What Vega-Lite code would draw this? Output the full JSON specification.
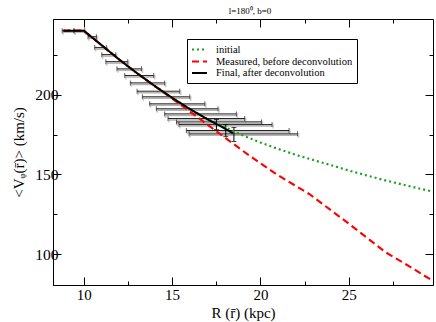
{
  "$schema": "https://vega.github.io/schema/vega-lite/v6.json",
  "width": 380,
  "height": 266,
  "autosize": "none",
  "padding": {"left": 53, "top": 19, "right": 3, "bottom": 37},
  "background": "white",
  "title": {"text": "l=180⁰, b=0", "font": "Liberation Serif", "fontSize": 9, "fontWeight": "normal", "color": "black", "offset": 3, "dx": 7},
  "config": {
    "font": "Liberation Serif",
    "view": {"stroke": "black", "strokeWidth": 1}
  },
  "datasets": {
    "curves": [
      {"series": "initial", "R": 8.85, "V": 240}, {"series": "initial", "R": 10, "V": 240},
      {"series": "initial", "R": 11, "V": 231}, {"series": "initial", "R": 12, "V": 222},
      {"series": "initial", "R": 13, "V": 213.5}, {"series": "initial", "R": 14, "V": 205.5},
      {"series": "initial", "R": 15, "V": 198}, {"series": "initial", "R": 16, "V": 191},
      {"series": "initial", "R": 17, "V": 184.8}, {"series": "initial", "R": 18, "V": 179.5},
      {"series": "initial", "R": 19, "V": 174.5}, {"series": "initial", "R": 20, "V": 170},
      {"series": "initial", "R": 21, "V": 166}, {"series": "initial", "R": 22, "V": 162.3},
      {"series": "initial", "R": 23, "V": 159}, {"series": "initial", "R": 24, "V": 155.8},
      {"series": "initial", "R": 25, "V": 152.5}, {"series": "initial", "R": 26, "V": 149.4},
      {"series": "initial", "R": 27, "V": 146.5}, {"series": "initial", "R": 28, "V": 143.8},
      {"series": "initial", "R": 29, "V": 141.2}, {"series": "initial", "R": 29.77, "V": 139.2},
      {"series": "Measured, before deconvolution", "R": 8.85, "V": 240}, {"series": "Measured, before deconvolution", "R": 10, "V": 240},
      {"series": "Measured, before deconvolution", "R": 11, "V": 231}, {"series": "Measured, before deconvolution", "R": 12, "V": 222},
      {"series": "Measured, before deconvolution", "R": 13, "V": 213.5}, {"series": "Measured, before deconvolution", "R": 14, "V": 205.5},
      {"series": "Measured, before deconvolution", "R": 15, "V": 197.5}, {"series": "Measured, before deconvolution", "R": 16, "V": 189.5},
      {"series": "Measured, before deconvolution", "R": 17, "V": 181.2}, {"series": "Measured, before deconvolution", "R": 18, "V": 173},
      {"series": "Measured, before deconvolution", "R": 19, "V": 164.8}, {"series": "Measured, before deconvolution", "R": 20, "V": 157},
      {"series": "Measured, before deconvolution", "R": 21, "V": 149.5}, {"series": "Measured, before deconvolution", "R": 22.8, "V": 137.5},
      {"series": "Measured, before deconvolution", "R": 25.05, "V": 118.8}, {"series": "Measured, before deconvolution", "R": 27.1, "V": 101.2},
      {"series": "Measured, before deconvolution", "R": 28.5, "V": 92}, {"series": "Measured, before deconvolution", "R": 29.77, "V": 83.3},
      {"series": "Final, after deconvolution", "R": 8.85, "V": 240}, {"series": "Final, after deconvolution", "R": 10, "V": 240},
      {"series": "Final, after deconvolution", "R": 11, "V": 231}, {"series": "Final, after deconvolution", "R": 12, "V": 222},
      {"series": "Final, after deconvolution", "R": 13, "V": 213.5}, {"series": "Final, after deconvolution", "R": 14, "V": 205.5},
      {"series": "Final, after deconvolution", "R": 15, "V": 198}, {"series": "Final, after deconvolution", "R": 16, "V": 191},
      {"series": "Final, after deconvolution", "R": 17, "V": 184.5}, {"series": "Final, after deconvolution", "R": 17.7, "V": 180.5},
      {"series": "Final, after deconvolution", "R": 18.45, "V": 175.8}
    ],
    "hbars": [
      {"Rlo": 8.78, "Rhi": 9.45, "V": 240},
      {"Rlo": 9.45, "Rhi": 10.05, "V": 240},
      {"Rlo": 10.24, "Rhi": 10.72, "V": 236.2},
      {"Rlo": 10.62, "Rhi": 11.28, "V": 229.4},
      {"Rlo": 11.02, "Rhi": 11.81, "V": 225},
      {"Rlo": 11.25, "Rhi": 12.49, "V": 220.6},
      {"Rlo": 11.88, "Rhi": 13.27, "V": 216.1},
      {"Rlo": 12.32, "Rhi": 13.96, "V": 211.9},
      {"Rlo": 12.64, "Rhi": 14.58, "V": 207.3},
      {"Rlo": 13.02, "Rhi": 15.43, "V": 202.1},
      {"Rlo": 13.32, "Rhi": 16.0, "V": 198.6},
      {"Rlo": 13.73, "Rhi": 16.85, "V": 194.2},
      {"Rlo": 14.11, "Rhi": 17.6, "V": 191.1},
      {"Rlo": 14.58, "Rhi": 18.64, "V": 187.9},
      {"Rlo": 14.77, "Rhi": 19.11, "V": 185},
      {"Rlo": 15.25, "Rhi": 20.06, "V": 182.9},
      {"Rlo": 15.39, "Rhi": 20.66, "V": 181.2},
      {"Rlo": 15.81, "Rhi": 21.62, "V": 177.5},
      {"Rlo": 15.96, "Rhi": 22.1, "V": 175.4}
    ],
    "vbars": [
      {"R": 17.51, "Vlo": 178.1, "Vhi": 184.4},
      {"R": 18.04, "Vlo": 173.7, "Vhi": 181.2},
      {"R": 18.5, "Vlo": 170.6, "Vhi": 179.4}
    ]
  },
  "resolve": {"axis": {"x": "independent", "y": "independent"}},
  "layer": [
    {
      "data": {"name": "hbars"},
      "mark": {"type": "rule", "color": "#b4b4b4", "strokeWidth": 1.5, "yOffset": 1.5, "xOffset": 1},
      "encoding": {
        "x": {"field": "Rlo", "type": "quantitative", "scale": {"domain": [8.26, 29.77], "nice": false, "zero": false},
          "title": "R (r̄) (kpc)",
          "axis": {"orient": "bottom", "values": [10, 12.5, 15, 17.5, 20, 22.5, 25, 27.5], "labelExpr": "datum.value % 5 == 0 ? format(datum.value, 'd') : ''",
            "tickSize": {"condition": {"test": "datum.value % 5 == 0", "value": -8}, "value": -4}, "tickColor": "black", "domainColor": "black",
            "labelFont": "Liberation Serif", "labelFontSize": 15, "labelColor": "black", "labelPadding": 10,
            "titleFont": "Liberation Serif", "titleFontSize": 15, "titleFontWeight": "normal", "titleColor": "black", "titlePadding": 3, "grid": false}},
        "x2": {"field": "Rhi"},
        "y": {"field": "V", "type": "quantitative", "scale": {"domain": [80.8, 247.3], "nice": false, "zero": false},
          "title": "<Vᵩ(r̄)> (km/s)",
          "axis": {"orient": "left", "values": [100, 125, 150, 175, 200, 225], "labelExpr": "datum.value % 50 == 0 ? format(datum.value, 'd') : ''",
            "tickSize": {"condition": {"test": "datum.value % 50 == 0", "value": -8}, "value": -4}, "tickColor": "black", "domainColor": "black",
            "labelFont": "Liberation Serif", "labelFontSize": 15.5, "labelColor": "black", "labelPadding": 3,
            "titleFont": "Liberation Serif", "titleFontSize": 15, "titleFontWeight": "normal", "titleColor": "black", "titlePadding": 8, "grid": false}}
      }
    },
    {
      "data": {"name": "hbars"},
      "mark": {"type": "tick", "orient": "vertical", "color": "#b4b4b4", "thickness": 1.5, "size": 5, "yOffset": 1.5, "xOffset": 1},
      "encoding": {"x": {"field": "Rlo", "type": "quantitative", "axis": null}, "y": {"field": "V", "type": "quantitative", "axis": null}}
    },
    {
      "data": {"name": "hbars"},
      "mark": {"type": "tick", "orient": "vertical", "color": "#b4b4b4", "thickness": 1.5, "size": 5, "yOffset": 1.5, "xOffset": 1},
      "encoding": {"x": {"field": "Rhi", "type": "quantitative", "axis": null}, "y": {"field": "V", "type": "quantitative", "axis": null}}
    },
    {
      "data": {"name": "hbars"},
      "mark": {"type": "rule", "color": "#222222", "strokeWidth": 1},
      "encoding": {"x": {"field": "Rlo", "type": "quantitative", "axis": null}, "x2": {"field": "Rhi"}, "y": {"field": "V", "type": "quantitative", "axis": null}}
    },
    {
      "data": {"name": "hbars"},
      "mark": {"type": "tick", "orient": "vertical", "color": "#222222", "thickness": 1, "size": 5},
      "encoding": {"x": {"field": "Rlo", "type": "quantitative", "axis": null}, "y": {"field": "V", "type": "quantitative", "axis": null}}
    },
    {
      "data": {"name": "hbars"},
      "mark": {"type": "tick", "orient": "vertical", "color": "#222222", "thickness": 1, "size": 5},
      "encoding": {"x": {"field": "Rhi", "type": "quantitative", "axis": null}, "y": {"field": "V", "type": "quantitative", "axis": null}}
    },
    {
      "data": {"name": "vbars"},
      "mark": {"type": "rule", "color": "black", "strokeWidth": 1},
      "encoding": {"x": {"field": "R", "type": "quantitative", "axis": null}, "y": {"field": "Vlo", "type": "quantitative", "axis": null}, "y2": {"field": "Vhi"}}
    },
    {
      "data": {"name": "vbars"},
      "mark": {"type": "tick", "orient": "horizontal", "color": "black", "thickness": 1, "size": 5},
      "encoding": {"x": {"field": "R", "type": "quantitative", "axis": null}, "y": {"field": "Vlo", "type": "quantitative", "axis": null}}
    },
    {
      "data": {"name": "vbars"},
      "mark": {"type": "tick", "orient": "horizontal", "color": "black", "thickness": 1, "size": 5},
      "encoding": {"x": {"field": "R", "type": "quantitative", "axis": null}, "y": {"field": "Vhi", "type": "quantitative", "axis": null}}
    },
    {
      "data": {"name": "curves"},
      "mark": {"type": "line", "clip": true},
      "encoding": {
        "x": {"field": "R", "type": "quantitative", "axis": null},
        "y": {"field": "V", "type": "quantitative", "axis": null},
        "color": {"field": "series", "type": "nominal",
          "scale": {"domain": ["initial", "Measured, before deconvolution", "Final, after deconvolution"], "range": ["#1f9f1f", "#ff0000", "#000000"]},
          "legend": {"title": null, "orient": "none", "legendX": 134, "legendY": 20, "strokeColor": "black", "fillColor": "white", "padding": 4,
            "symbolType": "M-1.5,0H1.5", "symbolSize": 100, "symbolStrokeWidth": 2, "symbolOffset": 2, "labelOffset": 10, "rowPadding": 0,
            "labelFont": "Liberation Serif", "labelFontSize": 10.5, "labelColor": "black"}},
        "strokeDash": {"field": "series", "type": "nominal",
          "scale": {"domain": ["initial", "Measured, before deconvolution", "Final, after deconvolution"], "range": [[2, 3], [7, 4], [1, 0]]},
          "legend": {"title": null, "orient": "none", "legendX": 134, "legendY": 20, "strokeColor": "black", "fillColor": "white", "padding": 4,
            "symbolType": "M-1.5,0H1.5", "symbolSize": 100, "symbolStrokeWidth": 2, "symbolOffset": 2, "labelOffset": 10, "rowPadding": 0,
            "labelFont": "Liberation Serif", "labelFontSize": 10.5, "labelColor": "black"}},
        "strokeWidth": {"field": "series", "type": "nominal", "scale": {"domain": ["initial", "Measured, before deconvolution", "Final, after deconvolution"], "range": [2.2, 2, 1.5]}, "legend": null},
        "order": {"field": "R", "type": "quantitative"}
      }
    },
    {
      "data": {"name": "curves"},
      "mark": {"type": "point", "opacity": 0},
      "encoding": {
        "x": {"field": "R", "type": "quantitative", "axis": {"orient": "top", "values": [10, 12.5, 15, 17.5, 20, 22.5, 25, 27.5], "labels": false, "domain": false, "title": null, "grid": false, "tickColor": "black", "tickSize": {"condition": {"test": "datum.value % 5 == 0", "value": -8}, "value": -4}}},
        "y": {"field": "V", "type": "quantitative", "axis": {"orient": "right", "values": [100, 125, 150, 175, 200, 225], "labels": false, "domain": false, "title": null, "grid": false, "tickColor": "black", "tickSize": {"condition": {"test": "datum.value % 50 == 0", "value": -8}, "value": -4}}}
      }
    }
  ]
}
